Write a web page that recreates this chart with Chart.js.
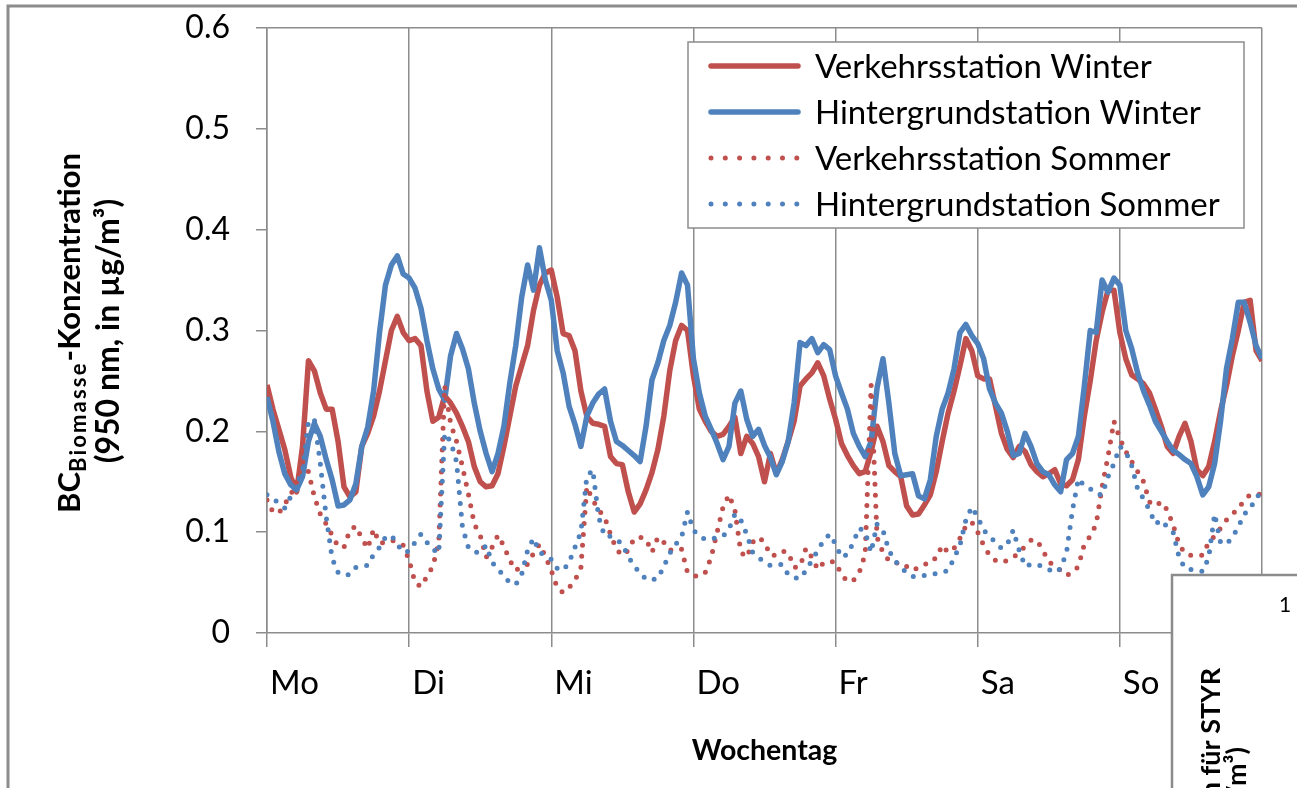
<!DOCTYPE html>
<html>
<head>
<meta charset="utf-8">
<title>BC Biomasse Wochengang</title>
<script src="https://cdn.jsdelivr.net/npm/chart.js@4.4.1/dist/chart.umd.min.js"></script>
<style>
  html, body { margin: 0; padding: 0; background: #fff; }
  canvas { display: block; }
</style>
</head>
<body>
<canvas id="bcChart" width="1297" height="788"></canvas>
<script>
// Stunde der Woche (0 = Montag 0 Uhr ... 168 = Ende Sonntag)
var hours = Array.from({ length: 169 }, function (_, h) { return h; });
var days = ['Mo', 'Di', 'Mi', 'Do', 'Fr', 'Sa', 'So'];
var yTickLabels = ['0', '0.1', '0.2', '0.3', '0.4', '0.5', '0.6'];

// Werte je Stunde, eine Zeile pro Tag
var verkehrWinter = [
  0.246, 0.222, 0.202, 0.182, 0.155, 0.140, 0.185, 0.270, 0.260, 0.238, 0.222, 0.222, 0.190, 0.145, 0.135, 0.140, 0.185, 0.198, 0.215, 0.240, 0.270, 0.300, 0.314, 0.298,
  0.290, 0.292, 0.285, 0.240, 0.210, 0.214, 0.235, 0.228, 0.218, 0.205, 0.190, 0.165, 0.150, 0.145, 0.146, 0.158, 0.185, 0.215, 0.245, 0.265, 0.285, 0.320, 0.345, 0.357,
  0.360, 0.333, 0.297, 0.295, 0.280, 0.240, 0.215, 0.208, 0.207, 0.205, 0.175, 0.168, 0.167, 0.140, 0.120, 0.128, 0.142, 0.159, 0.182, 0.215, 0.260, 0.290, 0.305, 0.300,
  0.255, 0.222, 0.210, 0.200, 0.195, 0.197, 0.205, 0.214, 0.178, 0.195, 0.188, 0.175, 0.150, 0.178, 0.158, 0.172, 0.190, 0.210, 0.245, 0.252, 0.258, 0.268, 0.255, 0.232,
  0.212, 0.188, 0.176, 0.166, 0.158, 0.160, 0.180, 0.205, 0.190, 0.166, 0.160, 0.155, 0.126, 0.117, 0.118, 0.127, 0.137, 0.160, 0.190, 0.218, 0.240, 0.265, 0.292, 0.280,
  0.255, 0.252, 0.252, 0.225, 0.198, 0.182, 0.174, 0.185, 0.180, 0.167, 0.160, 0.155, 0.158, 0.162, 0.148, 0.146, 0.152, 0.172, 0.215, 0.250, 0.290, 0.318, 0.340, 0.340,
  0.298, 0.272, 0.256, 0.252, 0.247, 0.238, 0.222, 0.205, 0.185, 0.178, 0.195, 0.208, 0.190, 0.162, 0.156, 0.165, 0.190, 0.220, 0.245, 0.275, 0.300, 0.328, 0.330, 0.280, 0.270
];
var hintergrundWinter = [
  0.234, 0.210, 0.180, 0.158, 0.147, 0.142, 0.155, 0.190, 0.208, 0.195, 0.172, 0.152, 0.126, 0.127, 0.132, 0.148, 0.185, 0.204, 0.240, 0.298, 0.345, 0.365, 0.374, 0.356,
  0.352, 0.342, 0.322, 0.290, 0.262, 0.242, 0.231, 0.275, 0.297, 0.282, 0.262, 0.228, 0.200, 0.178, 0.160, 0.178, 0.205, 0.248, 0.285, 0.333, 0.365, 0.340, 0.382, 0.350,
  0.330, 0.280, 0.258, 0.225, 0.207, 0.185, 0.215, 0.228, 0.237, 0.242, 0.210, 0.190, 0.186, 0.181, 0.176, 0.170, 0.205, 0.251, 0.268, 0.290, 0.305, 0.328, 0.357, 0.345,
  0.272, 0.238, 0.215, 0.202, 0.188, 0.172, 0.185, 0.228, 0.240, 0.212, 0.195, 0.202, 0.186, 0.174, 0.157, 0.170, 0.190, 0.228, 0.288, 0.285, 0.292, 0.278, 0.286, 0.281,
  0.255, 0.238, 0.222, 0.198, 0.185, 0.175, 0.190, 0.243, 0.272, 0.228, 0.178, 0.156, 0.157, 0.158, 0.136, 0.133, 0.152, 0.195, 0.222, 0.238, 0.262, 0.298, 0.306, 0.295,
  0.287, 0.272, 0.242, 0.228, 0.218, 0.200, 0.176, 0.178, 0.198, 0.185, 0.168, 0.160, 0.157, 0.147, 0.140, 0.172, 0.178, 0.195, 0.245, 0.300, 0.298, 0.350, 0.338, 0.352,
  0.345, 0.300, 0.282, 0.258, 0.240, 0.226, 0.210, 0.200, 0.190, 0.181, 0.177, 0.172, 0.168, 0.155, 0.137, 0.145, 0.168, 0.210, 0.262, 0.292, 0.328, 0.328, 0.308, 0.285, 0.272
];
var verkehrSommer = [
  0.132, 0.120, 0.119, 0.128, 0.137, 0.150, 0.170, 0.160, 0.135, 0.118, 0.108, 0.097, 0.086, 0.085, 0.102, 0.106, 0.094, 0.084, 0.103, 0.089, 0.090, 0.092, 0.090, 0.087,
  0.072, 0.050, 0.046, 0.056, 0.066, 0.090, 0.245, 0.208, 0.190, 0.165, 0.138, 0.108, 0.097, 0.075, 0.085, 0.097, 0.086, 0.072, 0.062, 0.066, 0.068, 0.079, 0.088, 0.076,
  0.062, 0.045, 0.040, 0.045, 0.052, 0.065, 0.145, 0.132, 0.122, 0.115, 0.098, 0.083, 0.077, 0.082, 0.094, 0.095, 0.093, 0.080, 0.095, 0.090, 0.082, 0.084, 0.083, 0.060,
  0.057, 0.056, 0.060, 0.075, 0.100, 0.125, 0.137, 0.122, 0.080, 0.075, 0.090, 0.095, 0.090, 0.077, 0.077, 0.081, 0.080, 0.065, 0.066, 0.084, 0.075, 0.063, 0.070, 0.071,
  0.070, 0.058, 0.051, 0.052, 0.060, 0.078, 0.246, 0.095, 0.080, 0.072, 0.069, 0.070, 0.066, 0.062, 0.065, 0.067, 0.073, 0.074, 0.087, 0.080, 0.084, 0.094, 0.106, 0.110,
  0.100, 0.087, 0.077, 0.072, 0.070, 0.072, 0.075, 0.080, 0.086, 0.092, 0.092, 0.082, 0.071, 0.066, 0.062, 0.057, 0.060, 0.066, 0.088, 0.096, 0.108, 0.145, 0.175, 0.210,
  0.193, 0.180, 0.170, 0.160, 0.150, 0.130, 0.126, 0.130, 0.122, 0.107, 0.088, 0.079, 0.077, 0.077, 0.077, 0.090, 0.096, 0.104, 0.112, 0.118, 0.123, 0.132, 0.137, 0.137, 0.138
];
var hintergrundSommer = [
  0.137, 0.133, 0.129, 0.124, 0.135, 0.148, 0.160, 0.210, 0.212, 0.168, 0.115, 0.074, 0.060, 0.057, 0.058, 0.065, 0.066, 0.067, 0.078, 0.085, 0.095, 0.097, 0.088, 0.080,
  0.081, 0.090, 0.098, 0.090, 0.083, 0.079, 0.198, 0.190, 0.170, 0.105, 0.085, 0.080, 0.080, 0.087, 0.070, 0.064, 0.056, 0.050, 0.048, 0.058, 0.082, 0.094, 0.080, 0.077,
  0.073, 0.064, 0.062, 0.070, 0.085, 0.100, 0.155, 0.162, 0.115, 0.096, 0.096, 0.093, 0.088, 0.076, 0.066, 0.060, 0.053, 0.053, 0.054, 0.066, 0.079, 0.088, 0.095, 0.120,
  0.102, 0.096, 0.093, 0.093, 0.095, 0.096, 0.103, 0.118, 0.112, 0.098, 0.080, 0.075, 0.070, 0.067, 0.068, 0.068, 0.058, 0.055, 0.054, 0.062, 0.072, 0.082, 0.092, 0.098,
  0.088, 0.075, 0.078, 0.090, 0.104, 0.100, 0.080, 0.108, 0.102, 0.082, 0.072, 0.065, 0.060, 0.056, 0.056, 0.057, 0.058, 0.059, 0.060, 0.062, 0.074, 0.087, 0.112, 0.125,
  0.115, 0.102, 0.096, 0.090, 0.084, 0.088, 0.102, 0.082, 0.066, 0.068, 0.068, 0.066, 0.063, 0.060, 0.064, 0.080, 0.122, 0.153, 0.146, 0.143, 0.138, 0.137, 0.155, 0.168,
  0.185, 0.180, 0.166, 0.143, 0.133, 0.122, 0.108, 0.112, 0.105, 0.100, 0.075, 0.064, 0.063, 0.062, 0.061, 0.075, 0.118, 0.090, 0.088, 0.095, 0.105, 0.118, 0.123, 0.135, 0.138
];

var rot = '#C0504D';
var blau = '#4F81BD';
var grau = '#8c8c8c';
var schrift = 'Lato, "Open Sans", sans-serif';

// Rahmen, Legende, Achsentitel mit Index und der überlappende Kasten rechts unten
var extras = {
  id: 'extras',
  beforeDraw: function (chart) {
    var c = chart.ctx;
    c.save();
    c.fillStyle = '#fff';
    c.fillRect(0, 0, chart.width, chart.height);
    c.strokeStyle = grau;
    c.lineWidth = 3;
    c.beginPath();
    c.moveTo(8, chart.height);
    c.lineTo(8, 6);
    c.lineTo(chart.width, 6);
    c.stroke();
    c.restore();
  },
  afterDraw: function (chart) {
    var c = chart.ctx;
    c.save();

    // Legende
    c.fillStyle = '#fff';
    c.fillRect(688, 42, 556, 186);
    c.strokeStyle = grau;
    c.lineWidth = 1.5;
    c.strokeRect(688, 42, 556, 186);
    chart.data.datasets.forEach(function (ds, i) {
      var y = 66 + i * 46;
      c.beginPath();
      c.strokeStyle = ds.borderColor;
      c.lineWidth = ds.borderWidth;
      c.lineCap = 'round';
      c.setLineDash(ds.borderDash.length ? [0, 14.3] : []);
      c.moveTo(711, y);
      c.lineTo(798, y);
      c.stroke();
      c.setLineDash([]);
      c.fillStyle = '#000';
      c.font = '33px ' + schrift;
      c.textBaseline = 'middle';
      c.textAlign = 'left';
      c.fillText(ds.label, 815, y + 1);
    });

    // y-Achsentitel: BC mit tiefgestelltem "Biomasse"
    c.fillStyle = '#000';
    c.translate(71, 333);
    c.rotate(-Math.PI / 2);
    var big = 'bold 31px ' + schrift, small = 'bold 22px ' + schrift;
    c.font = big;
    var w1 = c.measureText('BC').width, w3 = c.measureText('-Konzentration').width;
    c.font = small;
    var w2 = c.measureText('Biomasse').width;
    var sp = Math.max(0, Math.min(2.5, (360 - w1 - w2 - w3) / 8));
    var x0 = -(w1 + w2 + sp * 8 + w3) / 2;
    c.textAlign = 'left';
    c.textBaseline = 'alphabetic';
    c.font = big; c.fillText('BC', x0, 9);
    c.font = small;
    c.letterSpacing = sp + 'px';
    c.fillText('Biomasse', x0 + w1, 15);
    c.letterSpacing = '0px';
    c.font = big; c.fillText('-Konzentration', x0 + w1 + w2 + sp * 8, 9);
    c.font = 'bold 32px ' + schrift;
    c.textAlign = 'center';
    c.fillText('(950 nm, in \u00b5g/m\u00b3)', 2, 48);
    c.setTransform(1, 0, 0, 1, 0, 0);

    // abgeschnittener Kasten einer anderen Grafik
    c.fillStyle = '#fff';
    c.fillRect(1172, 575, 200, 300);
    c.strokeStyle = grau;
    c.lineWidth = 2.5;
    c.beginPath();
    c.moveTo(1172, chart.height);
    c.lineTo(1172, 575);
    c.lineTo(chart.width, 575);
    c.stroke();
    c.fillStyle = '#000';
    c.font = '21px ' + schrift;
    c.textAlign = 'center';
    c.textBaseline = 'middle';
    c.fillText('1', 1285, 605);
    c.font = 'bold 27px ' + schrift;
    c.textAlign = 'right';
    c.textBaseline = 'alphabetic';
    c.translate(1220, 668);
    c.rotate(-Math.PI / 2);
    c.fillText('BC-Konzentration f\u00fcr STYR', 0, 0);
    c.setTransform(1, 0, 0, 1, 0, 0);
    c.translate(1246, 747);
    c.rotate(-Math.PI / 2);
    c.fillText('(in \u00b5g/m\u00b3)', 0, 0);
    c.restore();
  }
};

var ctx = document.getElementById('bcChart').getContext('2d');
var bcChart = new Chart(ctx, {
  type: 'line',
  data: {
    labels: hours,
    datasets: [
      { label: 'Verkehrsstation Winter', data: verkehrWinter, borderColor: rot, borderWidth: 5.5, borderDash: [], order: 4 },
      { label: 'Hintergrundstation Winter', data: hintergrundWinter, borderColor: blau, borderWidth: 5.5, borderDash: [], order: 3 },
      { label: 'Verkehrsstation Sommer', data: verkehrSommer, borderColor: rot, borderWidth: 5, borderDash: [0, 11], borderCapStyle: 'round', order: 2 },
      { label: 'Hintergrundstation Sommer', data: hintergrundSommer, borderColor: blau, borderWidth: 5, borderDash: [0, 11], borderCapStyle: 'round', order: 1 }
    ]
  },
  options: {
    responsive: false,
    animation: false,
    layout: { padding: { left: 0, right: 35, top: 28, bottom: 0 } },
    elements: {
      point: { radius: 0, hoverRadius: 0 },
      line: { tension: 0, borderJoinStyle: 'round', fill: false }
    },
    plugins: { legend: { display: false }, tooltip: { enabled: false } },
    scales: {
      x: {
        type: 'linear', min: 0, max: 168,
        afterFit: function (s) { s.height = 155; },
        ticks: {
          stepSize: 24, autoSkip: false, maxRotation: 0, align: 'start', labelOffset: 3, padding: 17,
          color: '#000', font: { family: schrift, size: 33 },
          callback: function (v) { return days[v / 24] || ''; }
        },
        grid: { color: grau, lineWidth: 1.5, tickLength: 14 },
        border: { color: grau, width: 1.5 },
        title: {
          display: true, text: 'Wochentag', color: '#000',
          font: { family: schrift, size: 28.5, weight: 'bold' }, padding: { top: 0, bottom: 20 }
        }
      },
      y: {
        min: 0, max: 0.6,
        afterFit: function (s) {
          s.width = 267;
          s.paddingTop = 10;
          s.paddingBottom = 10;
        },
        ticks: {
          stepSize: 0.1, padding: 26, color: '#000', font: { family: schrift, size: 32 },
          callback: function (v, i) { return yTickLabels[i]; }
        },
        grid: {
          color: function (c) { return c.tick && c.tick.value > 0.59 ? grau : 'rgba(0,0,0,0)'; },
          tickColor: grau, lineWidth: 1.5, tickLength: 11
        },
        border: { color: grau, width: 1.5 }
      }
    }
  },
  plugins: [extras]
});
</script>
</body>
</html>
